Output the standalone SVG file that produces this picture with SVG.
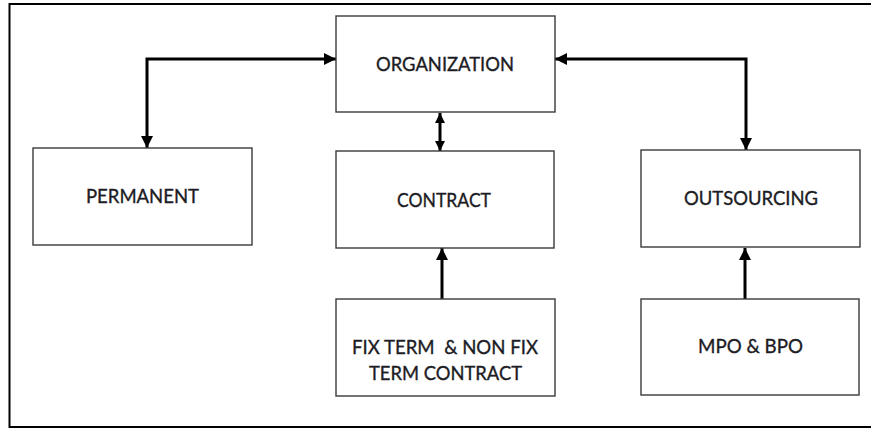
<svg xmlns="http://www.w3.org/2000/svg" width="871" height="428" viewBox="0 0 871 428">
<style>
.box{fill:#fff;stroke:#3a3a3a;stroke-width:1.4}
.lbl{font-family:Lato,"Liberation Sans",sans-serif;font-size:19.5px;fill:#1c1c24;stroke:#1c1c24;stroke-width:0.35;text-anchor:middle}
.con{fill:none;stroke:#000;stroke-width:3}
.frame{fill:none;stroke:#000;stroke-width:2}
</style>
<defs>
<marker id="ah" markerUnits="userSpaceOnUse" markerWidth="12" markerHeight="12" viewBox="0 0 10 10" refX="10" refY="5" orient="auto-start-reverse">
<path d="M0,0 L10,5 L0,10 z" fill="#000"/>
</marker>
<marker id="ahs" markerUnits="userSpaceOnUse" markerWidth="10" markerHeight="10" viewBox="0 0 10 10" refX="10" refY="5" orient="auto-start-reverse">
<path d="M0,0 L10,5 L0,10 z" fill="#000"/>
</marker>
</defs>
<rect width="871" height="428" fill="#fff"/>
<path class="frame" d="M871,4 H9.5 V427 H871"/>
<g id="connectors">
<path class="con" d="M147,148 V59 H336" marker-start="url(#ah)" marker-end="url(#ah)"/>
<path class="con" d="M555,59 H746 V150" marker-start="url(#ah)" marker-end="url(#ah)"/>
<path class="con" d="M440,113 V151" marker-start="url(#ahs)" marker-end="url(#ahs)"/>
<path class="con" d="M442,299 V248" marker-end="url(#ah)"/>
<path class="con" d="M745,299 V248" marker-end="url(#ah)"/>
</g>
<g id="organization">
<rect class="box" x="336" y="16" width="219" height="96"/>
<text class="lbl" x="445" y="71" textLength="138" lengthAdjust="spacingAndGlyphs">ORGANIZATION</text>
</g>
<g id="permanent">
<rect class="box" x="33" y="148" width="219" height="97"/>
<text class="lbl" x="142.5" y="203" textLength="113" lengthAdjust="spacingAndGlyphs">PERMANENT</text>
</g>
<g id="contract">
<rect class="box" x="336" y="151" width="218" height="97"/>
<text class="lbl" x="444" y="206.5" textLength="94" lengthAdjust="spacingAndGlyphs">CONTRACT</text>
</g>
<g id="outsourcing">
<rect class="box" x="641" y="150" width="219" height="97"/>
<text class="lbl" x="751" y="205" textLength="134" lengthAdjust="spacingAndGlyphs">OUTSOURCING</text>
</g>
<g id="fixterm">
<rect class="box" x="336" y="299" width="219" height="97"/>
<text class="lbl" x="445" y="353.5" textLength="186" lengthAdjust="spacingAndGlyphs" xml:space="preserve">FIX TERM  &amp; NON FIX</text>
<text class="lbl" x="445.5" y="379.5" textLength="153" lengthAdjust="spacingAndGlyphs">TERM CONTRACT</text>
</g>
<g id="mpobpo">
<rect class="box" x="641" y="299" width="218" height="96"/>
<text class="lbl" x="750.5" y="353" textLength="105" lengthAdjust="spacingAndGlyphs">MPO &amp; BPO</text>
</g>
</svg>
